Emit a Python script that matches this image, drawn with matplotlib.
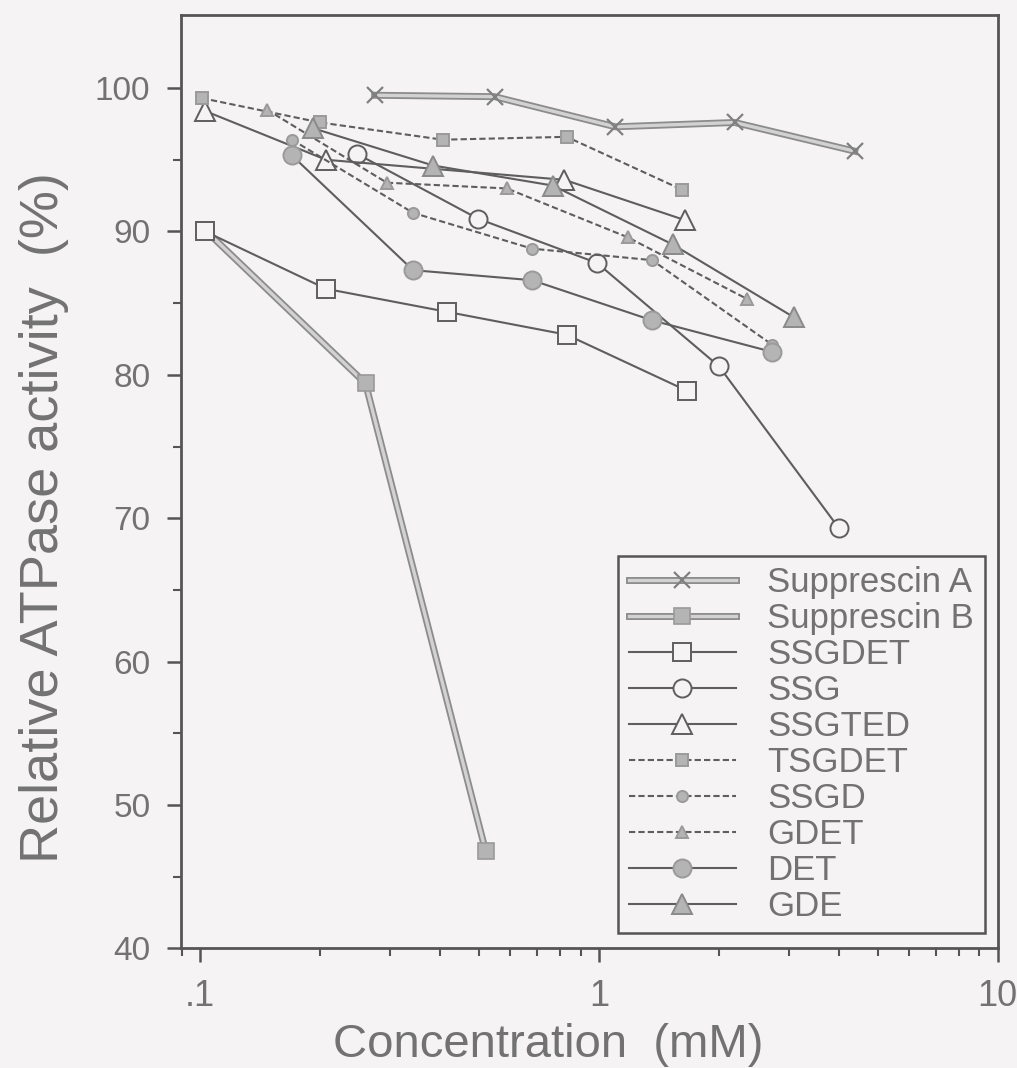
import numpy as np
import matplotlib
matplotlib.use("Agg")
import matplotlib.pyplot as plt
from matplotlib.ticker import FixedLocator, NullFormatter, LogLocator
from matplotlib.legend_handler import HandlerTuple

plt.rcParams['font.family'] = ['Liberation Sans', 'DejaVu Sans']

# data
supA_x = [0.274, 0.548, 1.10, 2.19, 4.38]
supA_y = [99.5, 99.4, 97.3, 97.6, 95.6]

supB_x = [0.103, 0.26, 0.52]
supB_y = [90.1, 79.4, 46.8]

ssgdet_x = [0.103, 0.207, 0.415, 0.83, 1.66]
ssgdet_y = [90.0, 86.0, 84.4, 82.8, 78.9]

ssg_x = [0.248, 0.497, 0.99, 2.0, 4.0]
ssg_y = [95.4, 90.9, 87.8, 80.6, 69.3]

ssgted_x = [0.103, 0.207, 0.82, 1.64]
ssgted_y = [98.4, 95.0, 93.6, 90.8]

tsgdet_x = [0.101, 0.2, 0.406, 0.83, 1.62]
tsgdet_y = [99.3, 97.6, 96.4, 96.6, 92.9]

ssgd_x = [0.17, 0.342, 0.68, 1.36, 2.72]
ssgd_y = [96.4, 91.3, 88.8, 88.0, 82.1]

gdet_x = [0.147, 0.294, 0.588, 1.18, 2.35]
gdet_y = [98.5, 93.4, 93.0, 89.6, 85.3]

det_x = [0.17, 0.342, 0.68, 1.36, 2.72]
det_y = [95.3, 87.3, 86.6, 83.8, 81.6]

gde_x = [0.192, 0.384, 0.767, 1.53, 3.09]
gde_y = [97.2, 94.6, 93.2, 89.1, 84.0]

bg = '#f5f3f3'
ink = '#5e5e5e'
txt = '#727272'
fill = '#b4b4b4'

fig = plt.figure(figsize=(10.17, 10.68), dpi=100, facecolor=bg)
ax = fig.add_axes([0.178, 0.112, 0.803, 0.874], facecolor=bg)

handles = []
labels = []

# the two Supprescin curves are drawn as a light band with darker edges
d1, = ax.plot(supA_x, supA_y, color='#8c8c8c', lw=5, zorder=2)
l1, = ax.plot(supA_x, supA_y, color='#d2d2d2', lw=2.4, marker='x', ms=12, mew=1.6,
              mec='#808080', zorder=3)
handles.append((d1, l1)); labels.append('Supprescin A')

d2, = ax.plot(supB_x, supB_y, color='#8c8c8c', lw=5, zorder=2)
l2, = ax.plot(supB_x, supB_y, color='#d2d2d2', lw=2.4, marker='s', ms=12, mfc=fill,
              mec='#9a9a9a', mew=1.2, zorder=3)
handles.append((d2, l2)); labels.append('Supprescin B')

series = [
    (ssgdet_x, ssgdet_y, '-', 's', 13, bg, ink, 'SSGDET'),
    (ssg_x, ssg_y, '-', 'o', 13, bg, ink, 'SSG'),
    (ssgted_x, ssgted_y, '-', '^', 15, bg, ink, 'SSGTED'),
    (tsgdet_x, tsgdet_y, (0, (3, 1.5)), 's', 8, fill, '#9a9a9a', 'TSGDET'),
    (ssgd_x, ssgd_y, (0, (3, 1.5)), 'o', 8, fill, '#9a9a9a', 'SSGD'),
    (gdet_x, gdet_y, (0, (3, 1.5)), '^', 9, fill, '#9a9a9a', 'GDET'),
    (det_x, det_y, '-', 'o', 13, fill, '#9a9a9a', 'DET'),
    (gde_x, gde_y, '-', '^', 14, fill, '#8a8a8a', 'GDE'),
]
for x, y, ls, m, ms, fc, ec, name in series:
    h, = ax.plot(x, y, color=ink, lw=1.5, ls=ls, marker=m, ms=ms, mfc=fc,
                 mec=ec, mew=1.4, zorder=4)
    handles.append(h); labels.append(name)

ax.set_xscale('log')
ax.set_xlim(0.0896, 10)
ax.set_ylim(40, 105.1)

ax.xaxis.set_major_locator(FixedLocator([0.1, 1, 10]))
ax.set_xticklabels(['.1', '1', '10'])
ax.xaxis.set_minor_locator(LogLocator(base=10, subs=np.arange(2, 10)))
ax.xaxis.set_minor_formatter(NullFormatter())
ax.set_yticks([40, 50, 60, 70, 80, 90, 100])
ax.set_yticks([45, 55, 65, 75, 85, 95], minor=True)

for s in ax.spines.values():
    s.set_color('#555555')
    s.set_linewidth(2)

ax.tick_params(which='major', direction='out', length=10, width=1.8,
               color='#555555', labelcolor=txt)
ax.tick_params(which='minor', direction='out', length=6, width=1.5, color='#555555')
ax.tick_params(axis='y', which='major', pad=12, labelsize=24)
ax.tick_params(axis='x', which='major', pad=12, labelsize=26)

ax.set_xlabel('Concentration  (mM)', fontsize=34, color=txt)
ax.xaxis.set_label_coords(0.449, -0.080)
ax.set_ylabel('Relative ATPase activity  (%)', fontsize=39, color=txt)
ax.yaxis.set_label_coords(-0.137, 0.462)

leg = ax.legend(handles, labels, handler_map={tuple: HandlerTuple(ndivide=1)},
                loc='lower right', bbox_to_anchor=(0.984, 0.016), borderaxespad=0,
                fontsize=25, frameon=True, fancybox=False, handlelength=3.1,
                handletextpad=0.9, labelspacing=0.085, borderpad=0.3,
                facecolor=bg, edgecolor='#555555')
leg.get_frame().set_linewidth(1.8)
leg.get_frame().set_alpha(1)
for t in leg.get_texts():
    t.set_color(txt)

fig.savefig('out.png', dpi=100, facecolor=bg)
